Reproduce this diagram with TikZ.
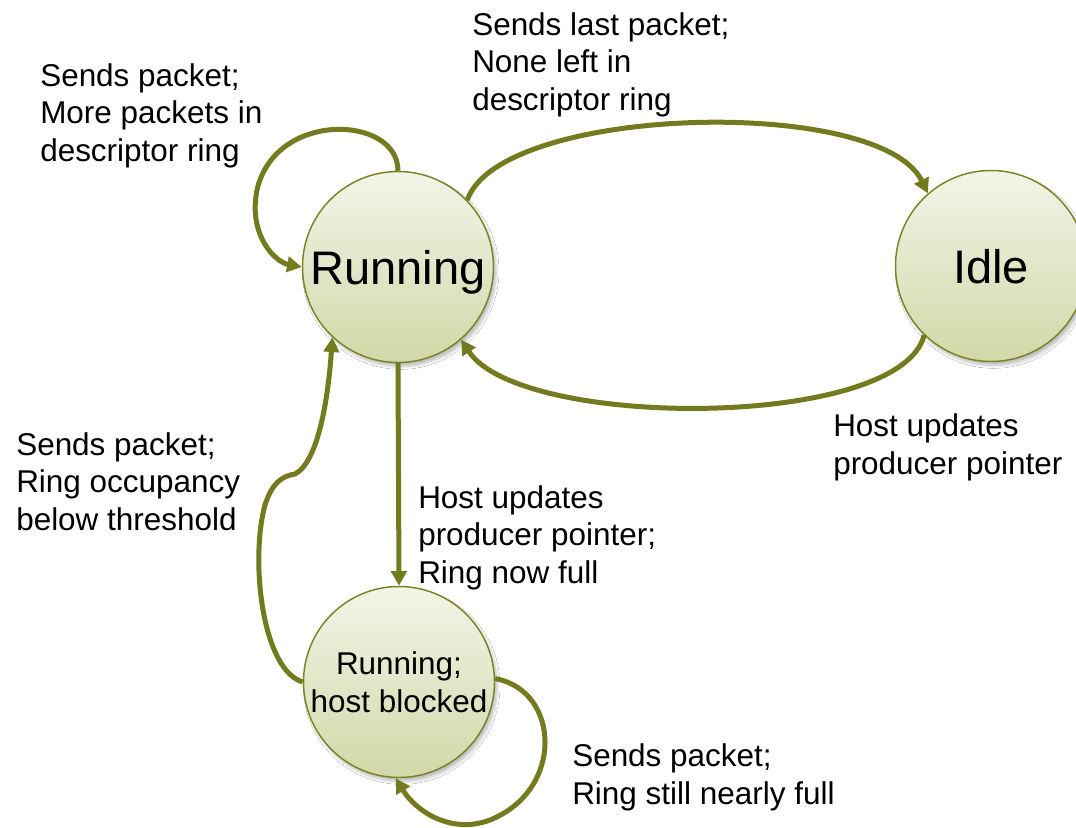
\documentclass[tikz,border=0pt]{standalone}
\usepackage{fontspec}
\setmainfont{Liberation Sans}
\usetikzlibrary{arrows.meta,shadows.blur}
\definecolor{olivearrow}{RGB}{116,122,30}
\definecolor{stateborder}{RGB}{124,130,38}
\definecolor{statetop}{RGB}{243,244,232}
\definecolor{statebottom}{RGB}{210,216,168}
\tikzset{
  state/.style={circle, draw=stateborder, line width=1.1pt, minimum size=143.25pt, inner sep=0pt,
    top color=statetop, bottom color=statebottom, align=center,
    blur shadow={shadow xshift=2pt, shadow yshift=-3pt, shadow blur steps=6, shadow opacity=25}},
  bigtext/.style={font=\fontsize{35.3}{42}\selectfont, text height=25.6pt, text depth=0pt},
  midtext/.style={font=\fontsize{23.6}{28.5}\selectfont},
  lbl/.style={anchor=base west, inner sep=0pt, align=left, font=\fontsize{23.6}{28}\selectfont},
  conn/.style={draw=olivearrow, line width=3.75pt, -{Triangle[length=11pt,width=11.5pt]}},
}
\begin{document}
\begin{tikzpicture}[x=0.75pt,y=-0.75pt]
\useasboundingbox (0,0) rectangle (1076,828);
\fill[white] (0,0) rectangle (1076,828);

\node[state, bigtext] (run) at (398,267) {Running};
\node[state, bigtext] (idle) at (991,266) {Idle};
\node[state, midtext] (blk) at (399,682) {Running;\\host blocked};

% self loop on Running
\draw[conn] (run.90) .. controls (398,115) and (275,110) .. (257,190)
  .. controls (248,235) and (275,262) .. (run.180);
% Running -> Idle
\draw[conn] (run.44) .. controls (500,105) and (880,95) .. (idle.131);
% Idle -> Running
\draw[conn] (idle.226) .. controls (900,430) and (520,430) .. (run.311);
% Running -> blocked
\draw[conn] (run.270) -- (blk.90);
% blocked -> Running
\draw[conn] (blk.180) .. controls (262,670) and (250,560) .. (265,505)
  .. controls (272,483) and (282,476) .. (295,474)
  .. controls (318,462) and (328,400) .. (run.227);
% self loop on blocked
\draw[conn] (blk.2) .. controls (560,690) and (565,790) .. (490,820)
  .. controls (450,835) and (415,810) .. (blk.268);

% labels: anchor is the baseline of the last line
\node[lbl] (l1) at (40,161) {Sends packet;\\More packets in\\descriptor ring};
\node[lbl] (l2) at (472,110) {Sends last packet;\\None left in\\descriptor ring};
\node[lbl] (l3) at (833,474) {Host updates\\producer pointer};
\node[lbl] (l4) at (16,530) {Sends packet;\\Ring occupancy\\below threshold};
\node[lbl] (l5) at (418,583) {Host updates\\producer pointer;\\Ring now full};
\node[lbl] (l6) at (572,804) {Sends packet;\\Ring still nearly full};
\end{tikzpicture}
\end{document}
